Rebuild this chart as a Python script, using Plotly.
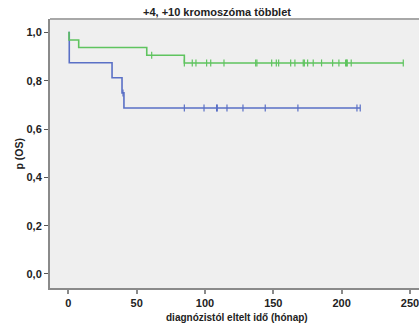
import plotly.graph_objects as go

# Kaplan-Meier step data (time in months, survival probability)
green_times = [0, 0.5, 7.6, 57.4, 84.9, 245.1]
green_surv = [1.0, 0.969, 0.938, 0.906, 0.874, 0.874]
green_censor = [61.0, 84.9, 90.7, 93.4, 101.2, 104.2, 113.9, 137.1, 138.0, 148.8,
                152.2, 153.9, 162.7, 165.8, 171.9, 172.7, 175.1, 179.2, 185.3,
                193.4, 198.0, 202.9, 203.6, 204.1, 207.0, 245.1]

blue_times = [0, 0.7, 32.0, 39.3, 40.7, 213.6]
blue_surv = [1.0, 0.875, 0.8125, 0.75, 0.6875, 0.6875]
blue_censor = [40.0, 84.9, 99.3, 108.5, 109.0, 116.1, 127.8, 144.1, 168.0, 211.2, 213.6]

x_ticks = [0, 50, 100, 150, 200, 250]
y_ticks = [0.0, 0.2, 0.4, 0.6, 0.8, 1.0]

GREEN = "#5fc45f"
BLUE = "#5a70c6"


def surv_at(times, surv, t):
    s = surv[0]
    for ti, si in zip(times, surv):
        if ti <= t:
            s = si
    return s


fig = go.Figure()
for times, surv, cens, col in [(blue_times, blue_surv, blue_censor, BLUE),
                               (green_times, green_surv, green_censor, GREEN)]:
    fig.add_trace(go.Scatter(x=times, y=surv, mode="lines", line_shape="hv",
                             line=dict(color=col, width=1.6), hoverinfo="skip",
                             showlegend=False))
    fig.add_trace(go.Scatter(x=cens, y=[surv_at(times, surv, t) for t in cens],
                             mode="markers",
                             marker=dict(symbol="line-ns", size=5,
                                         line=dict(color=col, width=1.2)),
                             showlegend=False))

font = "Liberation Sans, Arial, sans-serif"
fig.update_layout(
    width=419, height=326,
    margin=dict(l=50, r=0, t=19, b=38),
    paper_bgcolor="white", plot_bgcolor="#efefef",
    separators=", ",
    font=dict(family=font, size=11, color="#222"),
    xaxis=dict(range=[-13.4, 256.6], tickvals=x_ticks, showgrid=False, zeroline=False,
               showline=True, linecolor="#8a8a8a", linewidth=2,
               ticks="outside", ticklen=4, tickcolor="#8a8a8a", tickwidth=1.5,
               ticklabeloverflow="allow",
               tickfont=dict(family=font, size=11, weight="bold", color="#222")),
    yaxis=dict(range=[-0.058, 1.056], tickvals=y_ticks, tickformat=".1f",
               showgrid=False, zeroline=False,
               showline=True, linecolor="#8a8a8a", linewidth=2,
               ticks="outside", ticklen=4, tickcolor="#555", tickwidth=1,
               tickfont=dict(family=font, size=11, weight="bold", color="#222")),
    shapes=[dict(type="line", xref="paper", yref="paper", x0=0, x1=1, y0=1, y1=1,
                 line=dict(color="#a8a8a8", width=2))],
    annotations=[
        dict(text="+4, +10 kromoszóma többlet", xref="paper", yref="paper",
             x=(217 - 50) / 369, y=1, yshift=-1, xanchor="center", yanchor="bottom",
             showarrow=False, font=dict(family=font, size=11, weight="bold", color="#222")),
        dict(text="diagnózistól eltelt idő (hónap)", xref="paper", yref="paper",
             x=(237 - 50) / 369, y=0, yshift=-29, xanchor="center", yanchor="middle",
             showarrow=False, font=dict(family=font, size=10, weight="bold", color="#222")),
        dict(text="p (OS)", xref="paper", yref="paper", textangle=-90,
             x=0, xshift=-32, y=0.5, xanchor="center", yanchor="middle",
             showarrow=False, font=dict(family=font, size=10.5, weight="bold", color="#222")),
    ],
)

fig.write_html("out.html")
